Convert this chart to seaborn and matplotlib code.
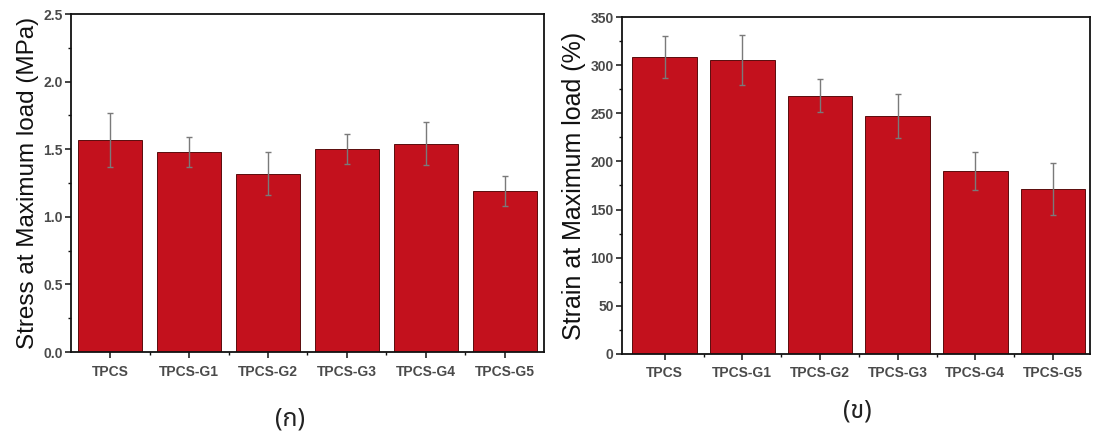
import numpy as np
import pandas as pd
import matplotlib
matplotlib.use("Agg")
import matplotlib.pyplot as plt
from matplotlib.ticker import MultipleLocator, FixedLocator
import seaborn as sns

categories = ["TPCS", "TPCS-G1", "TPCS-G2", "TPCS-G3", "TPCS-G4", "TPCS-G5"]
stress = [1.57, 1.48, 1.32, 1.50, 1.54, 1.19]
stress_err = [0.20, 0.11, 0.16, 0.11, 0.16, 0.11]
strain = [308.5, 305.5, 268.5, 247.0, 190.0, 171.5]
strain_err = [22, 26, 17, 23, 20, 27]
stress_label = "Stress at Maximum load (MPa)"
strain_label = "Strain at Maximum load (%)"
captions = ["(ก)", "(ข)"]

sns.set_style("white")
plt.rcParams['font.family'] = ['Liberation Sans', 'DejaVu Sans']

BAR = "#C3111D"
fig = plt.figure(figsize=(10.95, 4.38), dpi=100)
ax1 = fig.add_axes([0.0648, 0.1963, 0.432, 0.7717])
ax2 = fig.add_axes([0.568, 0.192, 0.427, 0.769])

def draw(ax, vals, errs, ylabel, lsize, ymax, major, minor, xlim, width, fmt):
    df = pd.DataFrame({"cat": categories, "val": vals})
    sns.barplot(data=df, x="cat", y="val", ax=ax, color=BAR, saturation=1,
                width=width, edgecolor="#5a0c0c", linewidth=0.7, errorbar=None)
    pos = np.arange(len(categories))
    ax.errorbar(pos, vals, yerr=errs, fmt="none", ecolor="#7a7a7a",
                elinewidth=1.0, capsize=2.5, capthick=1.0, zorder=5)
    ax.set_xlim(*xlim)
    ax.set_ylim(0, ymax)
    ax.yaxis.set_major_locator(MultipleLocator(major))
    ax.yaxis.set_minor_locator(MultipleLocator(minor))
    ax.xaxis.set_minor_locator(FixedLocator(pos[:-1] + 0.5))
    ax.yaxis.set_major_formatter(matplotlib.ticker.FormatStrFormatter(fmt))
    ax.set_xlabel("")
    ax.set_ylabel(ylabel, fontsize=lsize, color="#111111", labelpad=3)
    for s in ax.spines.values():
        s.set_visible(True)
        s.set_color("#111111")
        s.set_linewidth(1.3)
    ax.tick_params(axis="both", which="major", direction="out", length=4,
                   width=1.1, color="#111111", labelsize=10, labelcolor="#4a4a4a",
                   left=True, bottom=True, top=False, right=False, pad=2)
    ax.tick_params(axis="both", which="minor", direction="out", length=2.5,
                   width=1.0, color="#111111", left=True, bottom=True,
                   top=False, right=False)
    for lab in ax.get_xticklabels() + ax.get_yticklabels():
        lab.set_fontweight("bold")
    ax.tick_params(axis="x", pad=5)

draw(ax1, stress, stress_err, stress_label, 17.5, 2.5, 0.5, 0.25, (-0.5, 5.5), 0.81, "%.1f")
draw(ax2, strain, strain_err, strain_label, 18, 350, 50, 25, (-0.55, 5.47), 0.83, "%d")

thai = ['Noto Sans Thai', 'Noto Serif Thai', 'Loma', 'Garuda', 'Tlwg Typo', 'DejaVu Sans']
fig.text(290 / 1095, 1 - 419 / 438, captions[0], fontsize=18, ha="center", va="center",
         family=thai, color="#222222")
fig.text(857 / 1095, 1 - 411 / 438, captions[1], fontsize=18, ha="center", va="center",
         family=thai, color="#222222")

fig.savefig("out.png", dpi=100)
